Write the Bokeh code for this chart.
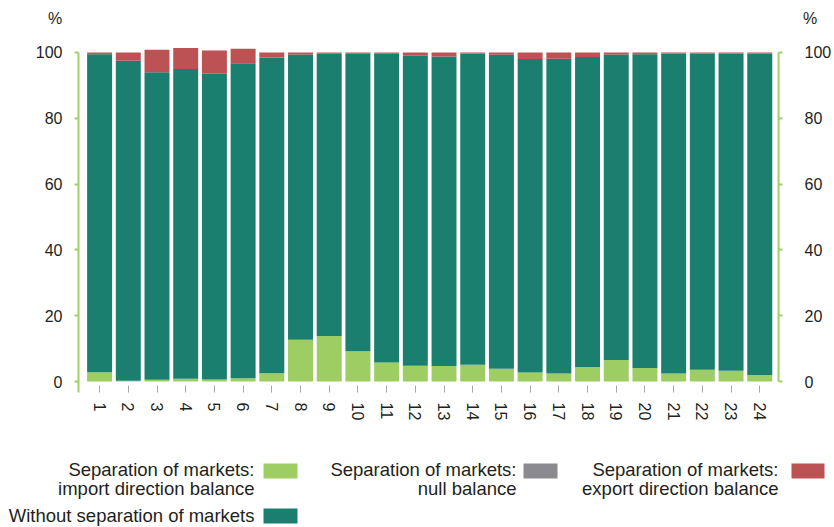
from bokeh.plotting import figure
from bokeh.models import ColumnDataSource, Range1d, LinearAxis, FixedTicker
from bokeh.embed import file_html
from bokeh.resources import INLINE
from bokeh.core.properties import value

# ---------------- data ----------------
categories = [str(i) for i in range(1, 25)]
import_balance = [2.8, 0.2, 0.5, 0.8, 0.6, 1.0, 2.5, 12.7, 13.8, 9.2, 5.8, 4.8,
                  4.7, 5.1, 3.9, 2.7, 2.4, 4.4, 6.5, 4.1, 2.4, 3.6, 3.3, 2.0]
null_balance = [0.0] * 24
without_separation = [96.7, 97.3, 93.5, 94.2, 92.9, 95.7, 96.0, 86.7, 85.8, 90.4, 93.8, 94.2,
                      94.1, 94.6, 95.4, 95.3, 95.7, 94.2, 92.9, 95.4, 97.3, 96.1, 96.4, 97.7]
export_balance = [0.5, 2.5, 6.8, 6.4, 7.1, 4.4, 1.5, 0.6, 0.4, 0.4, 0.4, 1.0,
                  1.2, 0.3, 0.7, 2.0, 1.9, 1.4, 0.6, 0.5, 0.3, 0.3, 0.3, 0.3]
y_ticks = [0, 20, 40, 60, 80, 100]
unit_label = "%"

series_keys = ["imp", "nul", "wo", "exp"]
series_colors = ["#9dcd63", "#8b8a90", "#1b7f6f", "#bd5254"]

FONT = "Liberation Sans"
TXT = "#231f20"
AXIS_GREEN = "#a2d06a"
W = 834

x_pos = list(range(1, len(categories) + 1))
source = ColumnDataSource(dict(x=x_pos, imp=import_balance, nul=null_balance,
                               wo=without_separation, exp=export_balance))

def blank(fig):
    fig.outline_line_color = None
    fig.xgrid.visible = False
    fig.ygrid.visible = False

# ---------------- top strip with unit labels ----------------
top = figure(width=W, height=30, output_backend="svg", toolbar_location=None,
             x_range=Range1d(0, W), y_range=Range1d(30, 0),
             x_axis_location=None, y_axis_location=None, min_border=0, title=None)
blank(top)
top.text(x=[54.5, 809.5], y=[18, 18], text=[unit_label, unit_label], text_font=value(FONT),
         text_font_size="16px", text_color=TXT, text_align="center", text_baseline="middle")

# ---------------- chart ----------------
p = figure(width=W, height=400, output_backend="svg", toolbar_location=None,
           x_range=Range1d(0.265, 24.653), y_range=Range1d(-3.343, 101.82),
           min_border_left=78, min_border_right=49, min_border_top=16, min_border_bottom=38,
           title=None)
blank(p)

p.vbar_stack(series_keys, x="x", width=0.87, color=series_colors, line_color=None, source=source)

xa = p.xaxis[0]
xa.ticker = FixedTicker(ticks=x_pos)
xa.major_label_overrides = {x: c for x, c in zip(x_pos, categories)}
xa.axis_line_color = None
xa.major_tick_in = 7
xa.major_tick_out = 0
xa.major_tick_line_color = "#a8a8a8"
xa.minor_tick_line_color = None
xa.major_label_orientation = "vertical"
xa.major_label_standoff = 10
xa.major_label_text_font = FONT
xa.major_label_text_font_size = "16px"
xa.major_label_text_color = TXT

def style_y(ax, bounds):
    ax.ticker = FixedTicker(ticks=y_ticks)
    ax.bounds = bounds
    ax.axis_line_color = AXIS_GREEN
    ax.axis_line_width = 2
    ax.major_tick_line_color = AXIS_GREEN
    ax.major_tick_line_width = 2
    ax.major_tick_in = 0
    ax.major_tick_out = 4
    ax.minor_tick_line_color = None
    ax.major_label_text_font = FONT
    ax.major_label_text_font_size = "16px"
    ax.major_label_text_color = TXT

ya = p.yaxis[0]
style_y(ya, (-3.343, 100))
ya.major_label_standoff = 12

ra = LinearAxis()
style_y(ra, (0, 100))
ra.major_label_standoff = 22
p.add_layout(ra, "right")

# ---------------- legend ----------------
legend_line1 = ["Separation of markets:", "Separation of markets:", "Separation of markets:",
                "Without separation of markets"]
legend_line2 = ["import direction balance", "null balance", "export direction balance", ""]
legend_colors = [series_colors[0], series_colors[1], series_colors[3], series_colors[2]]
leg_text_x = [254, 516, 778, 254]
leg_text_y1 = [39, 39, 39, 84.5]
leg_text_y2 = [58, 58, 58, 103]
sw_x0 = [263, 523, 791, 263]
sw_x1 = [297, 557, 824, 297]
sw_y0 = [33, 33, 33, 78]
sw_y1 = [48, 48, 48, 93]

lg = figure(width=W, height=97, output_backend="svg", toolbar_location=None,
            x_range=Range1d(0, W), y_range=Range1d(97, 0),
            x_axis_location=None, y_axis_location=None, min_border=0, title=None)
blank(lg)
lsrc = ColumnDataSource(dict(l1=legend_line1, l2=legend_line2, c=legend_colors,
                             tx=leg_text_x, ty1=leg_text_y1, ty2=leg_text_y2,
                             x0=sw_x0, x1=sw_x1, y0=sw_y0, y1=sw_y1))
lg.quad(left="x0", right="x1", top="y0", bottom="y1", fill_color="c", line_color=None, source=lsrc)
lg.text(x="tx", y="ty1", text="l1", text_font=value(FONT), text_font_size="18.5px",
        text_color=TXT, text_align="right", text_baseline="middle", source=lsrc)
lg.text(x="tx", y="ty2", text="l2", text_font=value(FONT), text_font_size="18.5px",
        text_color=TXT, text_align="right", text_baseline="middle", source=lsrc)

open("out.html", "w").write(file_html([top, p, lg], INLINE))
